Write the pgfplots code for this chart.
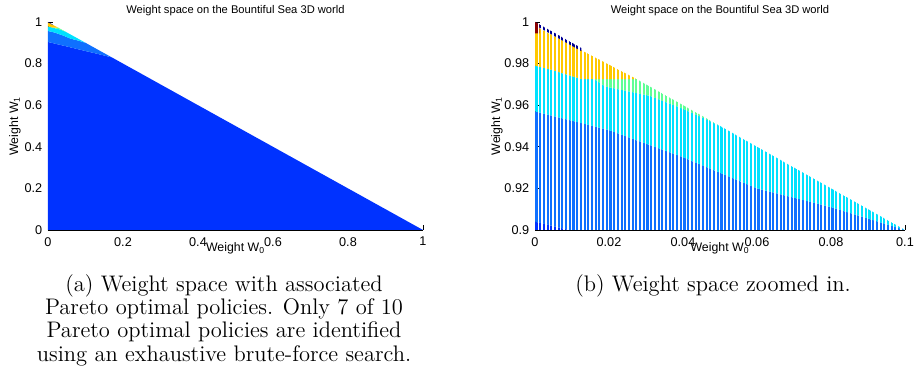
\documentclass[border=0pt]{standalone}
\usepackage{fontspec}
\usepackage{pgfplots}
\usepackage{pgfplotstable}
\pgfplotsset{compat=1.18}
\usetikzlibrary{patterns.meta}
\newfontfamily\helv{Liberation Sans}

\definecolor{jdark}{RGB}{0,50,255}
\definecolor{jmed}{RGB}{15,112,255}
\definecolor{jcyan}{RGB}{0,225,255}
\definecolor{jgreen}{RGB}{95,255,150}
\definecolor{jyellow}{RGB}{255,200,0}
\definecolor{jnavy}{RGB}{0,0,150}
\definecolor{jred}{RGB}{140,0,0}

% region polygons in weight space (W0, W1)
\pgfplotstableread{
x y
0 0
1 0
0.17 0.83
0 0.904
0 0
}\Dreg
\pgfplotstableread{
x y
0 0.904
0.17 0.83
0.1 0.9
0.08 0.911
0.06 0.92
0.04 0.935
0.02 0.948
0 0.957
0 0.904
}\Mreg
\pgfplotstableread{
x y
0 0.957
0.02 0.948
0.04 0.935
0.06 0.92
0.08 0.911
0.1 0.9
0.05 0.95
0.046 0.9535
0.039 0.959
0.031 0.9645
0.019 0.969
0.016 0.9725
0.0126 0.9725
0.009 0.9745
0.0045 0.977
0 0.979
0 0.957
}\Creg
\pgfplotstableread{
x y
0.016 0.9725
0.0275 0.9725
0.05 0.95
0.046 0.9535
0.039 0.959
0.031 0.9645
0.019 0.969
0.016 0.9725
}\Greg
\pgfplotstableread{
x y
0 0.979
0 0.998
0.0275 0.9725
0.0126 0.9725
0.009 0.9745
0.0045 0.977
0 0.979
}\Yreg
\pgfplotstableread{
x y
0 0.9985
0 1
0.0125 0.9875
0.0125 0.986
0 0.9985
}\Nreg
\pgfplotstableread{
x y
0 0.9945
0.0012 0.9945
0.0012 0.9988
0 1
0 0.9945
}\Rreg

\pgfplotsset{
  wsaxis/.style={
    scale only axis,
    axis x line*=bottom, axis y line*=left,
    axis line style={black, line width=0.4pt},
    tick align=inside,
    major tick length=3pt,
    tick style={black, line width=0.4pt},
    /pgf/number format/assume math mode=true,
    tick label style={font=\helv\fontsize{7.6}{9}\selectfont},
    xticklabel style={yshift=-0.8pt},
    title style={at={(axis description cs:0.5,1)}, anchor=base, yshift=-0.9pt,
      font=\helv\fontsize{6.7}{8}\selectfont},
    xlabel style={at={(axis description cs:0.5,0)}, anchor=base, yshift=-13pt,
      font=\helv\fontsize{7.4}{9}\selectfont},
    ylabel style={font=\helv\fontsize{7.4}{9}\selectfont, anchor=base},
    title={Weight space on the Bountiful Sea 3D world},
    xlabel={Weight W\textsubscript{0}},
    ylabel={Weight W\textsubscript{1}},
  },
  solidreg/.style={draw=none, fill=#1, forget plot},
  dotreg/.style={draw=none, pattern={Lines[angle=90,distance=2.22pt,line width=1.25pt]}, pattern color=#1, forget plot},
}

\begin{document}
\begin{tikzpicture}
\path[use as bounding box] (0,0) rectangle (549.6pt,232.2pt);

% ---------------- left panel ----------------
\begin{axis}[wsaxis,
  at={(28.8pt,94.2pt)}, anchor=south west,
  width=225pt, height=124.8pt,
  xmin=0, xmax=1, ymin=0, ymax=1,
  xtick={0,0.2,0.4,0.6,0.8,1}, xticklabels={0,0.2,0.4,0.6,0.8,1},
  ytick={0,0.2,0.4,0.6,0.8,1}, yticklabels={0,0.2,0.4,0.6,0.8,1},
  ylabel style={at={([xshift=-18pt]axis description cs:0,0.5)}},
]
\addplot[solidreg=jdark] table {\Dreg};
\addplot[solidreg=jmed] table {\Mreg};
\addplot[solidreg=jcyan] table {\Creg};
\addplot[solidreg=jgreen] table {\Greg};
\addplot[solidreg=jyellow] table {\Yreg};
\addplot[solidreg=jnavy] table {\Nreg};
\end{axis}

% ---------------- right panel ----------------
\begin{axis}[wsaxis,
  at={(321pt,94.2pt)}, anchor=south west,
  width=222pt, height=124.8pt,
  xmin=0, xmax=0.1, ymin=0.9, ymax=1,
  xtick={0,0.02,0.04,0.06,0.08,0.1}, xticklabels={0,0.02,0.04,0.06,0.08,0.1},
  ytick={0.9,0.92,0.94,0.96,0.98,1}, yticklabels={0.9,0.92,0.94,0.96,0.98,1},
  ylabel style={at={([xshift=-21pt]axis description cs:0,0.5)}},
]
\addplot[dotreg=jdark] table {\Dreg};
\addplot[dotreg=jmed] table {\Mreg};
\addplot[dotreg=jcyan] table {\Creg};
\addplot[dotreg=jgreen] table {\Greg};
\addplot[dotreg=jyellow] table {\Yreg};
\addplot[dotreg=jnavy] table {\Nreg};
\addplot[dotreg=jred] table {\Rreg};
\end{axis}

% ---------------- captions ----------------
\begin{scope}[every node/.style={anchor=base, inner sep=0pt, font=\fontsize{13.5}{15}\selectfont}]
\node at (134.4pt,57.0pt) {(a) Weight space with associated};
\node at (134.4pt,43.2pt) {Pareto optimal policies. Only 7 of 10};
\node at (134.4pt,29.4pt) {Pareto optimal policies are identified};
\node at (134.4pt,15.0pt) {using an exhaustive brute-force search.};
\node at (427.8pt,57.0pt) {(b) Weight space zoomed in.};
\end{scope}
\end{tikzpicture}
\end{document}
